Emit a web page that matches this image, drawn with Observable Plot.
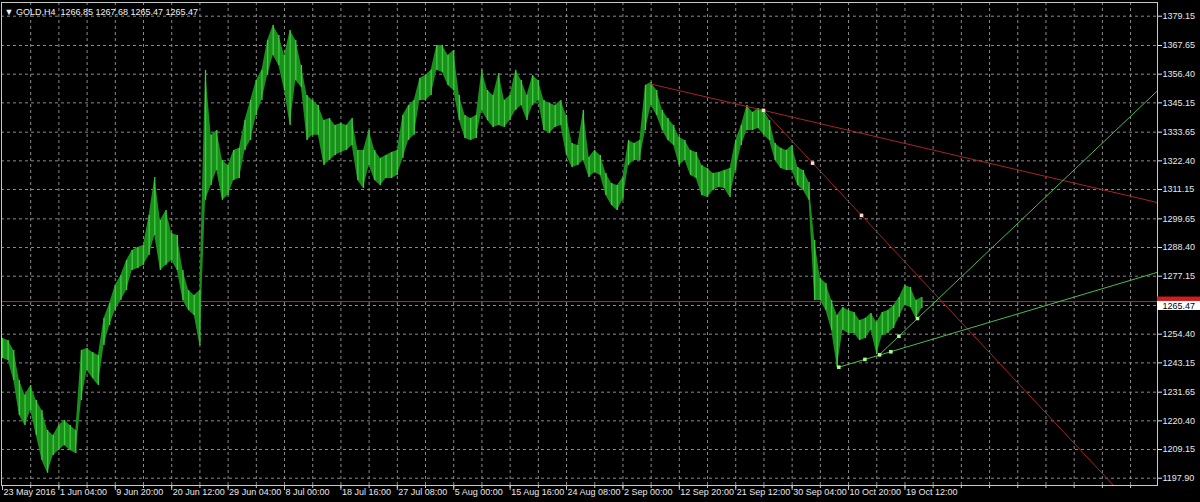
<!DOCTYPE html>
<html><head><meta charset="utf-8">
<script src="https://cdn.jsdelivr.net/npm/d3@7"></script>
<script src="https://cdn.jsdelivr.net/npm/@observablehq/plot@0.6"></script>
<style>
html,body{margin:0;padding:0;background:#000;overflow:hidden}
</style></head><body><div id="chart"></div>
<script>
// ---- data (GOLD, H4) ----
const symbol = "GOLD,H4";
const ohlc = [1266.85, 1267.68, 1265.47, 1265.47];
const barsPerEntry = 4; // each entry = range of 4 H4 bars
const high = [
1252.7,1251.9,1248.0,1236.2,1230.4,1234.3,1228.4,1224.5,1216.6,1214.7,
1218.6,1220.5,1218.6,1216.6,1248.0,1248.8,1247.2,1246.0,1260.6,1266.4,
1273.5,1277.4,1283.3,1287.2,1288.4,1289.2,1301.0,1315.9,1299.0,1302.9,
1293.9,1293.1,1279.4,1271.5,1269.6,1271.5,1357.9,1332.4,1334.3,1322.5,
1320.6,1326.5,1327.3,1338.2,1346.1,1353.9,1357.9,1369.6,1375.5,1371.6,
1363.7,1373.5,1369.6,1359.8,1348.0,1346.1,1344.1,1338.2,1339.0,1336.3,
1337.1,1336.3,1339.0,1326.5,1326.5,1334.3,1326.5,1323.3,1324.5,1325.7,
1326.5,1340.2,1344.1,1346.1,1354.7,1355.9,1357.9,1367.7,1367.7,1363.7,
1365.7,1348.0,1340.2,1339.0,1340.2,1357.9,1350.0,1348.0,1356.7,1346.1,
1348.0,1357.9,1353.9,1348.0,1355.9,1353.9,1346.1,1344.9,1344.1,1346.1,
1340.2,1329.2,1328.4,1342.2,1323.7,1326.5,1324.5,1317.4,1313.5,1312.7,
1315.9,1330.4,1329.2,1330.4,1352.0,1353.1,1350.0,1342.2,1339.0,1336.3,
1331.6,1330.4,1326.5,1325.7,1320.6,1319.4,1317.4,1317.8,1318.6,1319.4,
1330.4,1336.3,1344.1,1341.4,1342.9,1342.2,1338.2,1329.2,1327.3,1326.5,
1328.4,1319.8,1318.6,1313.9,1291.2,1276.3,1274.3,1267.6,1261.7,1264.9,
1263.7,1262.9,1259.8,1260.6,1262.5,1259.0,1262.9,1263.7,1265.7,1268.8,
1273.5,1272.7,1267.6,1268.8
];
const low = [
1244.9,1244.1,1236.2,1222.5,1218.6,1224.5,1214.7,1204.9,1199.8,1206.8,
1208.8,1210.7,1208.8,1207.6,1228.4,1240.2,1237.0,1234.3,1250.0,1257.8,
1263.7,1267.6,1271.5,1279.4,1280.2,1281.4,1285.3,1293.1,1279.4,1281.4,
1283.3,1279.4,1267.6,1263.7,1261.7,1250.0,1306.9,1312.7,1318.6,1306.9,
1308.8,1314.7,1315.5,1326.5,1330.4,1340.2,1346.1,1355.9,1363.7,1359.8,
1350.0,1336.3,1353.9,1351.2,1330.4,1332.4,1332.4,1320.6,1322.5,1324.5,
1325.7,1326.5,1328.4,1314.7,1311.6,1320.6,1314.7,1312.7,1315.5,1315.5,
1316.7,1323.3,1330.4,1332.4,1346.1,1346.1,1348.0,1357.9,1357.1,1352.0,
1350.0,1338.2,1331.2,1330.4,1331.2,1342.2,1338.2,1335.5,1336.3,1335.5,
1338.2,1342.2,1344.1,1338.2,1344.1,1346.1,1334.3,1333.1,1335.5,1336.3,
1324.5,1319.8,1320.6,1322.5,1315.9,1317.8,1316.7,1308.8,1304.9,1302.9,
1306.9,1320.6,1322.5,1322.5,1334.3,1344.1,1340.2,1334.3,1330.4,1328.4,
1320.6,1322.5,1316.7,1315.5,1308.8,1308.0,1310.8,1312.0,1311.6,1308.0,
1318.6,1328.4,1334.3,1334.3,1335.1,1332.4,1330.4,1322.5,1319.4,1318.6,
1318.6,1312.7,1310.8,1306.9,1267.6,1267.6,1263.7,1255.9,1241.3,1255.9,
1254.7,1254.7,1251.9,1252.7,1255.9,1246.4,1253.9,1254.7,1256.6,1261.0,
1265.7,1264.9,1260.6,1264.5
];
const timeLabels = ["23 May 2016","1 Jun 04:00","9 Jun 20:00","20 Jun 12:00","29 Jun 04:00",
  "8 Jul 00:00","18 Jul 16:00","27 Jul 08:00","5 Aug 00:00","15 Aug 16:00","24 Aug 08:00",
  "2 Sep 00:00","12 Sep 20:00","21 Sep 12:00","30 Sep 04:00","10 Oct 20:00","19 Oct 12:00"];
const labelEveryBars = 40;
const gridEveryBars = 20;
const priceTicks = [1379.15,1367.65,1356.40,1345.15,1333.65,1322.40,1311.15,1299.65,1288.40,
  1277.15,1254.40,1243.15,1231.65,1220.40,1209.15,1197.90];
const hiddenGridPrice = 1265.65;
const bidPrice = 1265.47;
const hLinePrice = 1267.2;
// trend lines: two anchors (bar index, price), extended as rays to the right
const redLines = [
  {b1: 458.2, p1: 1352.75, b2: 539.7, p2: 1342.2},
  {b1: 539.7, p1: 1342.2, b2: 609.2, p2: 1301.0}
];
const greenLines = [
  {b1: 593.1, p1: 1241.45, b2: 630.0, p2: 1247.53},
  {b1: 622.0, p1: 1246.43, b2: 648.9, p2: 1260.55}
];
const redPointBars = [539.7, 574.5, 609.2];
const redPointPrices = [1342.2, 1321.5, 1301.0];
const greenPointBars = [593.1, 611.6, 622.0, 630.0, 635.7, 648.9];
const greenPointPrices = [1241.45, 1244.5, 1246.3, 1247.5, 1253.6, 1260.55];

// ---- build ----
const W = 1200, H = 502;
const mL = 1, mR = 43, mT = 2, mB = 17;
const xDom = [-0.71, 819.1];
const yDom = [1195.04, 1384.52];
const bpp = (xDom[1] - xDom[0]) / (W - mL - mR);   // bars per pixel
const upp = (yDom[1] - yDom[0]) / (H - mT - mB);   // price units per pixel

const bars = high.map((h, i) => ({bar: i * barsPerEntry, hi: h, lo: low[i]}));
const labelBars = timeLabels.map((_, i) => i * labelEveryBars);
const gridBars = d3.range(gridEveryBars, xDom[1], gridEveryBars);
const ray = (l) => [{b: l.b1, p: l.p1}, {b: xDom[1], p: l.p1 + (xDom[1] - l.b1) * (l.p2 - l.p1) / (l.b2 - l.b1)}];
const redPts = redPointBars.map((b, i) => ({b, p: redPointPrices[i]}));
const greenPts = greenPointBars.map((b, i) => ({b, p: greenPointPrices[i]}));
const headerText = "\u25BC " + symbol + "\u00a0\u00a0" + ohlc.map(v => v.toFixed(2)).join(" ");

const gridStyle = {stroke: "#8a8a8a", strokeDasharray: "3,3", strokeWidth: 1};

const chart = Plot.plot({
  width: W, height: H,
  marginLeft: mL, marginRight: mR, marginTop: mT, marginBottom: mB,
  style: {background: "#000", color: "#e8e8e8", fontFamily: "'Liberation Sans', Arial, sans-serif", fontSize: "9px"},
  x: {domain: xDom, axis: null},
  y: {domain: yDom, axis: "right", ticks: priceTicks, tickFormat: d => d.toFixed(2), tickSize: 4, tickPadding: 1, label: null},
  marks: [
    Plot.ruleY([...priceTicks, hiddenGridPrice], gridStyle),
    Plot.ruleX(gridBars, {x: d => d, ...gridStyle}),
    Plot.ruleY([hLinePrice], {stroke: "#d41c1c", strokeWidth: 1}),
    Plot.areaY(bars, {x: "bar", y1: "lo", y2: "hi", fill: "#1b8f1b", curve: "linear"}),
    Plot.ruleX(bars, {x: "bar", y1: "lo", y2: "hi", stroke: "#3fcd3f", strokeWidth: 1.3}),
    ...redLines.map(l => Plot.line(ray(l), {x: "b", y: "p", stroke: "#a82424", strokeWidth: 1, clip: true})),
    ...greenLines.map(l => Plot.line(ray(l), {x: "b", y: "p", stroke: "#4fb84f", strokeWidth: 1, clip: true})),
    Plot.dot(redPts, {x: "b", y: "p", symbol: "square", r: 2, fill: "#ffd8d8"}),
    Plot.dot(greenPts, {x: "b", y: "p", symbol: "square", r: 2, fill: "#a8ff90"}),
    // time axis ticks + labels
    Plot.ruleX(gridBars, {x: d => d, y1: yDom[0], y2: yDom[0] - 3 * upp, stroke: "#c8c8c8"}),
    Plot.ruleX(labelBars, {x: d => d, y1: yDom[0], y2: yDom[0] - 5 * upp, stroke: "#c8c8c8"}),
    Plot.text(labelBars, {x: d => d, text: (d, i) => timeLabels[i], frameAnchor: "bottom", textAnchor: "start", dx: 1, dy: 9, fill: "#e8e8e8"}),
    Plot.frame({stroke: "#c8c8c8"}),
    // header
    Plot.text([headerText], {frameAnchor: "top-left", textAnchor: "start", dx: 3, dy: 6, fill: "#f0f0f0"}),
    // price labels for horizontal line and bid
    Plot.rect([hLinePrice], {x1: xDom[1], x2: xDom[1] + 43 * bpp, y1: d => d - 4.5 * upp, y2: d => d + 4.5 * upp, fill: "#d41c1c"}),
    Plot.rect([bidPrice], {x1: xDom[1], x2: xDom[1] + 43 * bpp, y1: d => d - 4.5 * upp, y2: d => d + 4.5 * upp, fill: "#ffffff"}),
    Plot.text([bidPrice], {y: d => d, text: d => d.toFixed(2), frameAnchor: "right", textAnchor: "start", dx: 5, fill: "#000"})
  ]
});
document.getElementById("chart").appendChild(chart);
</script>
</body></html>
